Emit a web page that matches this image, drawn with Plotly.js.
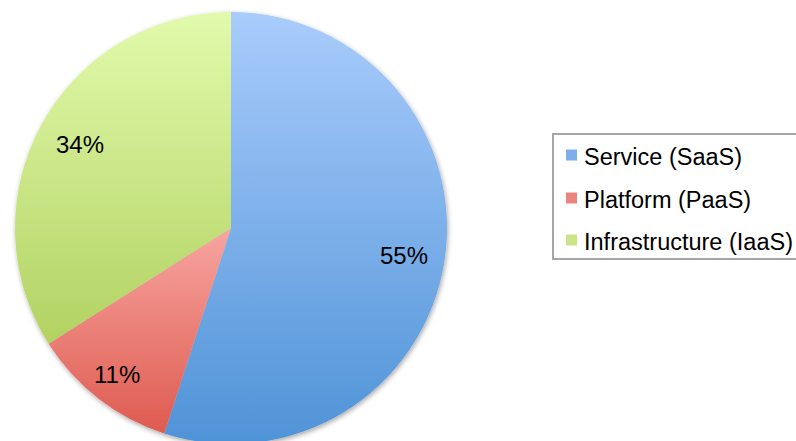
<!DOCTYPE html>
<html>
<head>
<meta charset="utf-8">
<script src="https://cdn.plot.ly/plotly-3.0.1.min.js"></script>
<style>
html,body{margin:0;padding:0;overflow:hidden;background:#fff;}
#chart{width:796px;height:444px;}
</style>
</head>
<body>
<div id="chart"></div>
<script>
// ---- data ----
const labels = ["Service (SaaS)", "Platform (PaaS)", "Infrastructure (IaaS)"];
const values = [55, 11, 34];
const colorsTop = ["#A9CCFC", "#F7A5A0", "#E2FAAC"];
const colorsBottom = ["#4F93D7", "#DE5B50", "#B2D262"];
const colorsMid = ["#7DAFEA", "#EC837D", "#CBE487"];

// ---- layout helpers (pixel -> paper) ----
const W = 796, H = 444, MT = 12;
const px = x => x / W;
const py = y => 1 - (y - MT) / (H - MT);
const CX = 231, CY = 228, R = 216;          // pie centre / radius in pixels
const labelRadius = [0.81, 0.86, 0.80];      // label distance as fraction of radius
const FONT = "Liberation Sans, Arial, sans-serif";

const trace = {
  type: "pie",
  labels: labels,
  values: values,
  sort: false,
  direction: "clockwise",
  rotation: 0,
  textinfo: "none",
  marker: {colors: colorsMid, line: {width: 0}},
  domain: {x: [px(CX - R), px(CX + R)], y: [0, 1]},
  showlegend: false,
  hoverinfo: "label+percent"
};

const shapes = [{
  type: "rect", xref: "paper", yref: "paper",
  x0: px(553), x1: px(800), y0: py(259), y1: py(134),
  line: {color: "#a6a6a6", width: 2}, fillcolor: "rgba(0,0,0,0)"
}];
const annotations = [];

// percentage labels placed from the values (slice mid-angles)
const total = values.reduce((a, b) => a + b, 0);
let cum = 0;
values.forEach((v, i) => {
  const mid = (cum + v / 2) / total * 2 * Math.PI;   // clockwise from 12 o'clock
  cum += v;
  const r = R * labelRadius[i];
  const x = CX + r * Math.sin(mid);
  const y = CY - r * Math.cos(mid);
  annotations.push({
    xref: "paper", yref: "paper", x: px(x), y: py(y),
    xanchor: "center", yanchor: "middle", showarrow: false,
    text: Math.round(v / total * 100) + "%",
    font: {family: FONT, size: 24, color: "#000"}
  });
});

// legend
const rowY = [157, 200, 242];
labels.forEach((lab, i) => {
  const cy = rowY[i] - 2;
  shapes.push({
    type: "rect", xref: "paper", yref: "paper",
    x0: px(566), x1: px(577), y0: py(cy + 5.5), y1: py(cy - 5.5),
    line: {width: 0}, fillcolor: colorsMid[i]
  });
  annotations.push({
    xref: "paper", yref: "paper", x: px(582), y: py(rowY[i]),
    xanchor: "left", yanchor: "middle", showarrow: false,
    text: lab,
    font: {family: FONT, size: 23.5, color: "#000"}
  });
});

const layout = {
  width: W, height: H,
  margin: {l: 0, r: 0, t: MT, b: 0, pad: 0},
  paper_bgcolor: "#fff",
  plot_bgcolor: "#fff",
  showlegend: false,
  shapes: shapes,
  annotations: annotations
};

Plotly.newPlot("chart", [trace], layout, {displayModeBar: false, staticPlot: true}).then(gd => {
  // vertical gradients on slices (styling only)
  const svg = gd.querySelector("svg.main-svg");
  const NS = "http://www.w3.org/2000/svg";
  let defs = svg.querySelector("defs");
  if (!defs) { defs = document.createElementNS(NS, "defs"); svg.insertBefore(defs, svg.firstChild); }
  labels.forEach((_, i) => {
    const g = document.createElementNS(NS, "linearGradient");
    g.setAttribute("id", "pg" + i);
    g.setAttribute("x1", "0"); g.setAttribute("y1", "0");
    g.setAttribute("x2", "0"); g.setAttribute("y2", "1");
    const s1 = document.createElementNS(NS, "stop");
    s1.setAttribute("offset", "0"); s1.setAttribute("stop-color", colorsTop[i]);
    const s2 = document.createElementNS(NS, "stop");
    s2.setAttribute("offset", "1"); s2.setAttribute("stop-color", colorsBottom[i]);
    g.appendChild(s1); g.appendChild(s2);
    defs.appendChild(g);
  });
  const f = document.createElementNS(NS, "filter");
  f.setAttribute("id", "pieshadow");
  f.setAttribute("x", "-10%"); f.setAttribute("y", "-10%");
  f.setAttribute("width", "120%"); f.setAttribute("height", "120%");
  f.innerHTML = '<feDropShadow dx="1" dy="2" stdDeviation="2.5" flood-color="#000" flood-opacity="0.35"/>';
  defs.appendChild(f);
  const slices = gd.querySelectorAll("g.slice path.surface");
  slices.forEach((p, i) => { p.style.fill = "url(#pg" + i + ")"; });
  const trg = gd.querySelector("g.pielayer g.trace");
  if (trg) trg.setAttribute("filter", "url(#pieshadow)");
});
</script>
</body>
</html>
